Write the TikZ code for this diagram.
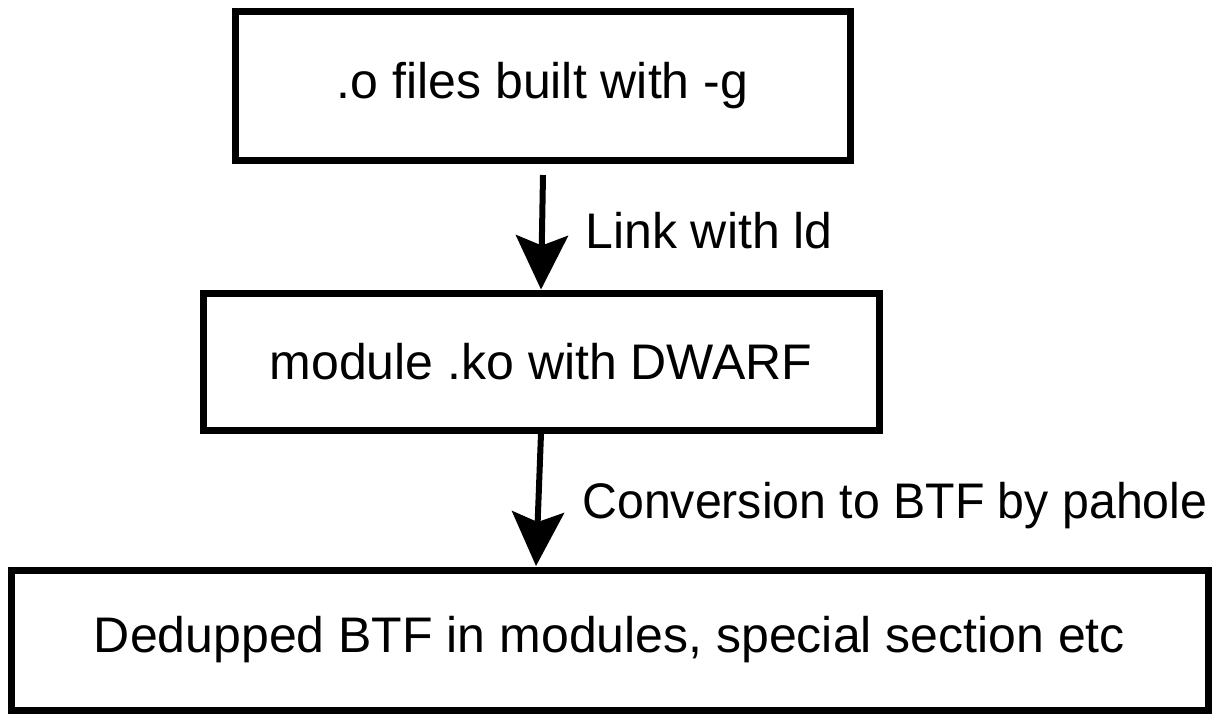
\documentclass[tikz,border=0pt]{standalone}
\usepackage{fontspec}
\setmainfont{Liberation Sans}
\usetikzlibrary{arrows.meta}

\tikzset{
  stagebox/.style={draw, line width=3.5pt, inner sep=0pt, font=\fontsize{25}{30}\selectfont},
  steplabel/.style={anchor=west, inner sep=0pt, font=\fontsize{25}{30}\selectfont},
  arr/.style={line width=3pt, -{Stealth[length=27pt, width=26pt, inset=5pt]}}
}

\begin{document}
\begin{tikzpicture}[x=0.5pt, y=-0.5pt]
  \useasboundingbox (0,0) rectangle (1221,718);

  % Las tres etapas
  \node[stagebox, minimum width=307.5pt, minimum height=74.5pt] (obj) at (542.5,85.5) {.o files built with -g};
  \node[stagebox, minimum width=338pt, minimum height=68.5pt] (ko) at (541,361.5) {module .ko with DWARF};
  \node[stagebox, minimum width=598.5pt, minimum height=70pt] (btf) at (609.5,640) {Dedupped BTF in modules, special section etc};

  % Extremos de las flechas
  \coordinate (objout) at (543,175);
  \coordinate (btfin) at (536,566);

  % Flechas entre etapas
  \draw[arr] (objout) -- (ko.north);
  \draw[arr] (ko.south) -- (btfin);

  % Etiquetas de las flechas
  \node[steplabel] (link) at (585,231) {Link with ld};
  \node[steplabel] (conv) at (582,506) {\scalebox{0.965}[1]{Conversion to BTF by pahole}};
\end{tikzpicture}
\end{document}
